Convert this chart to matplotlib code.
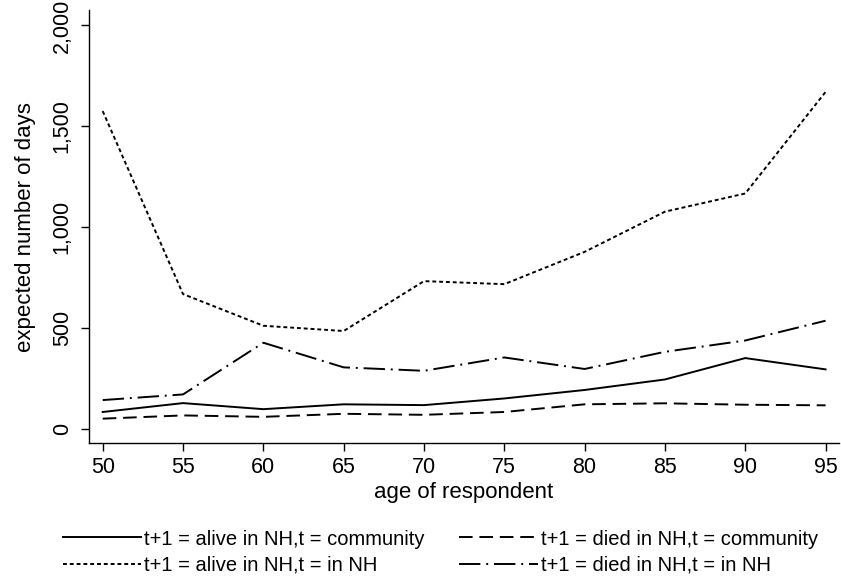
import matplotlib
matplotlib.use("Agg")
import matplotlib.pyplot as plt
from matplotlib.ticker import FuncFormatter

plt.rcParams['font.family'] = ['Liberation Sans', 'DejaVu Sans']

# values
age = [50, 55, 60, 65, 70, 75, 80, 85, 90, 95]
alive_comm = [86, 130, 100, 124, 120, 153, 195, 247, 353, 297]
died_comm = [53, 69, 62, 77, 72, 86, 124, 129, 122, 119]
alive_nh = [1576, 670, 513, 487, 734, 719, 879, 1078, 1168, 1671]
died_nh = [145, 173, 429, 307, 290, 356, 299, 384, 440, 538]

labels = ["t+1 = alive in NH,t = community",
          "t+1 = died in NH,t = community",
          "t+1 = alive in NH,t = in NH",
          "t+1 = died in NH,t = in NH"]

fig = plt.figure(figsize=(8.41, 5.76), dpi=100)
ax = fig.add_axes([0.1055, 0.2304, 0.892, 0.752])

lw = 1.4
l1, = ax.plot(age, alive_comm, color='black', lw=lw, linestyle='-')
l2, = ax.plot(age, died_comm, color='black', lw=lw, linestyle=(0, (7, 3.5)))
l3, = ax.plot(age, alive_nh, color='black', lw=lw, linestyle=(0, (2, 1.5)))
l4, = ax.plot(age, died_nh, color='black', lw=lw, linestyle=(0, (11, 3, 1, 3)))

ax.set_xlim(49.13, 95.83)
ax.set_ylim(-69, 2076)
ax.set_xticks(age)
ax.set_yticks([0, 500, 1000, 1500, 2000])
ax.yaxis.set_major_formatter(FuncFormatter(lambda v, p: f"{int(v):,}"))

for s in ['top', 'right']:
    ax.spines[s].set_visible(False)
for s in ['left', 'bottom']:
    ax.spines[s].set_linewidth(1.0)

ax.tick_params(axis='both', direction='out', length=5.5, width=1.0, labelsize=15.5)
ax.tick_params(axis='x', pad=4.5)
ax.tick_params(axis='y', pad=6)
for t in ax.get_yticklabels():
    t.set_rotation(90)
    t.set_va('center')

ax.set_xlabel("age of respondent", fontsize=16, labelpad=3)
ax.set_ylabel("expected number of days", fontsize=16, labelpad=11)

fig.legend([l1, l3, l2, l4], [labels[0], labels[2], labels[1], labels[3]],
           ncol=2, loc='lower left', bbox_to_anchor=(0.058, -0.022),
           frameon=False, fontsize=14.5, handlelength=3.9,
           handletextpad=0.15, columnspacing=1.7, labelspacing=0.35,
           borderpad=0.2)

fig.savefig("out.png", dpi=100)
